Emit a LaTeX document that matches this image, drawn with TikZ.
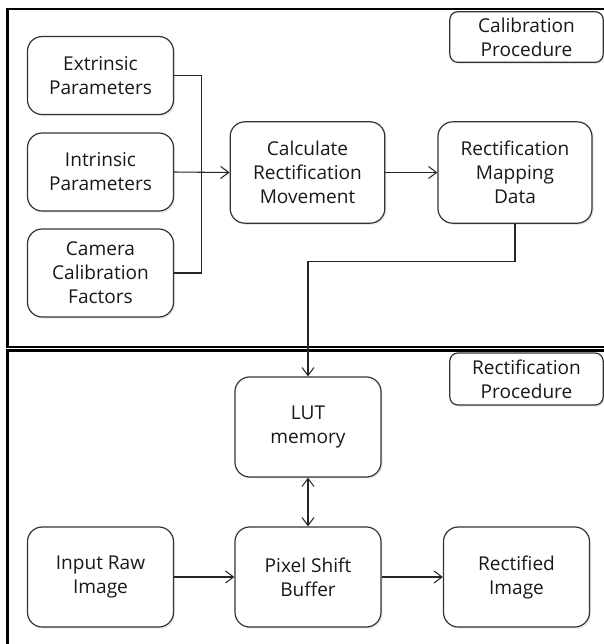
\documentclass[tikz,border=0pt]{standalone}
\usepackage{fontspec}
\setmainfont{Open Sans}
\usetikzlibrary{arrows.meta, shadows}

\begin{document}
\begin{tikzpicture}[x=0.75pt, y=-0.75pt,
        box/.style={draw=black!80, line width=0.9pt, rounded corners=11pt, fill=white,
            align=center, text=black!90, font=\fontsize{14.3}{18}\selectfont,
            minimum width=109.5pt, minimum height=75pt, inner sep=2pt,
            drop shadow={shadow xshift=1.2pt, shadow yshift=-1.2pt, opacity=0.18}},
        tag/.style={box, rounded corners=6pt, minimum width=115pt, minimum height=38pt},
        frame/.style={draw=black, line width=1.7pt},
        link/.style={draw=black!85, line width=0.8pt},
        arr/.style={link, -{Straight Barb[length=6pt, width=9pt]}},
        arrboth/.style={link, {Straight Barb[length=6pt, width=9pt]}-{Straight Barb[length=6pt, width=9pt]}}]
    \useasboundingbox (0,0) rectangle (604,644);
    \begin{scope}
        \clip (0,0) rectangle (604,644);
        \draw[frame] (7.5,9) rectangle (620,347);
        \draw[frame] (7.5,350.5) rectangle (620,660);
    \end{scope}

    % calibration part
    \node[box, minimum height=58.5pt] (ext) at (100.5,75.5) {Extrinsic\\Parameters};
    \node[box, minimum height=58.5pt] (intr) at (100.5,172) {Intrinsic\\Parameters};
    \node[box, minimum height=66pt] (cam) at (100.5,273) {Camera\\Calibration\\Factors};
    \node[box, minimum width=116pt, minimum height=76pt] (calc) at (307.5,172.5) {Calculate\\Rectification\\Movement};
    \node[box, minimum width=115.5pt, minimum height=76pt] (map) at (515,172.5) {Rectification\\Mapping\\Data};
    \node[tag] (calib) at (526.5,37) {Calibration\\Procedure};

    % rectification part
    \node[box] (lut) at (308,427) {LUT\\memory};
    \node[box] (pix) at (308,577) {Pixel Shift\\Buffer};
    \node[box] (raw) at (100.5,577) {Input Raw\\Image};
    \node[box] (out) at (516.5,577) {Rectified\\Image};
    \node[tag, minimum height=39pt] (rectp) at (526.5,379) {Rectification\\Procedure};

    \coordinate (bus) at (201.5,172);
    \draw[link] (ext.east) -| (bus);
    \draw[link] (cam.east) -| (bus);
    \draw[arr] (intr.east) -- (calc.west);
    \draw[arr] (calc) -- (map);
    \draw[arr] (map.south) -- ++(0,38) -| (lut.north);
    \draw[arrboth] (lut) -- (pix);
    \draw[arr] (raw) -- (pix);
    \draw[arr] (pix) -- (out);
\end{tikzpicture}
\end{document}
